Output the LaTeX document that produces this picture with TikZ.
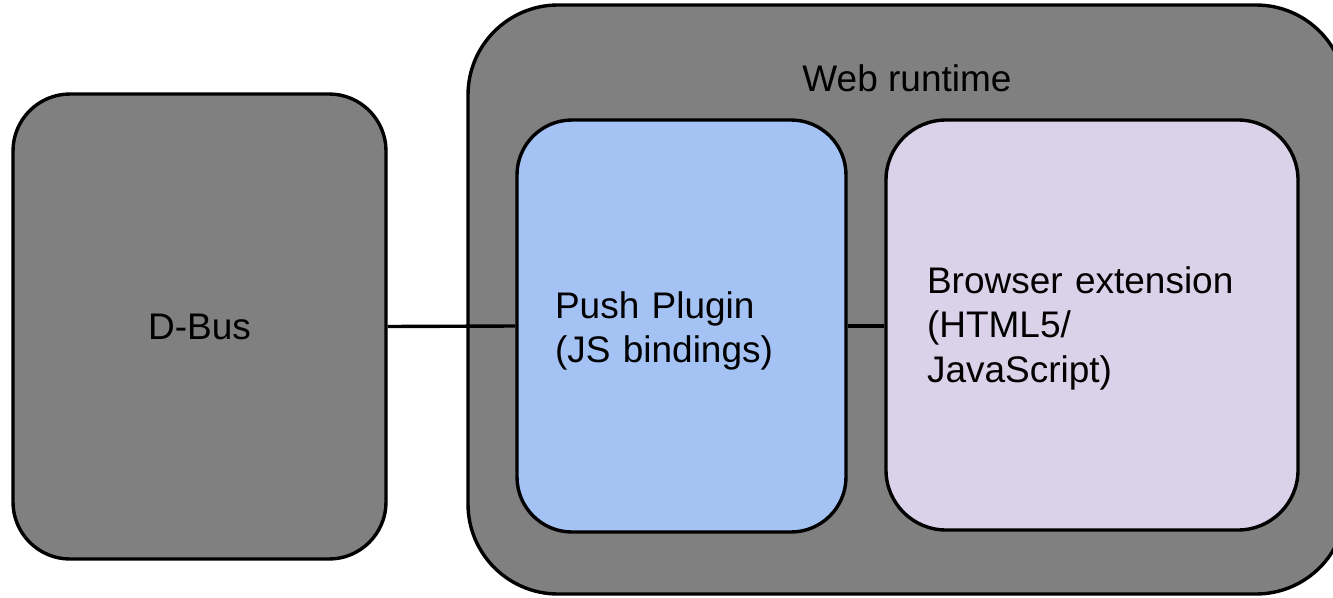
\documentclass[tikz,border=0pt]{standalone}
\usepackage{fontspec}
\setmainfont{Liberation Sans}
\definecolor{boxgray}{HTML}{808080}
\definecolor{pushblue}{HTML}{A4C2F4}
\definecolor{lavender}{HTML}{D9D2E9}
\tikzset{
  panel/.style={draw=black, line width=3.4pt, rectangle, inner sep=0pt},
  lbl/.style={font=\fontsize{37}{44.5}\selectfont, text=black},
  conn/.style={draw=black, line width=3.4pt}
}
\begin{document}
\begin{tikzpicture}[x=1pt,y=-1pt]
\useasboundingbox (0,0) rectangle (1333,597);
\clip (0,0) rectangle (1333,597);
\node[panel, fill=boxgray, rounded corners=90pt, minimum width=878pt, minimum height=589pt] (web) at (907,299.5) {};
\node[lbl, anchor=base] (webtitle) at (907,91) {Web runtime};
\node[panel, fill=boxgray, rounded corners=57pt, minimum width=373pt, minimum height=465pt, lbl] (dbus) at (199.5,326.5) {D-Bus};
\node[panel, fill=pushblue, rounded corners=55pt, minimum height=412pt, lbl, text width=253pt, inner xsep=38pt, inner ysep=0pt, align=left] (push) at (681.5,326) {\rule{0pt}{37pt}Push Plugin\\(JS bindings)};
\node[panel, fill=lavender, rounded corners=60pt, minimum height=410pt, lbl, text width=330pt, inner xsep=41pt, inner ysep=0pt, align=left] (browser) at (1092,325) {\rule{0pt}{33pt}Browser extension\\(HTML5/\\JavaScript)};
\draw[conn] (dbus.east) -- (push.west);
\draw[conn] (push.east) -- (push.east -| browser.west);
\end{tikzpicture}
\end{document}
